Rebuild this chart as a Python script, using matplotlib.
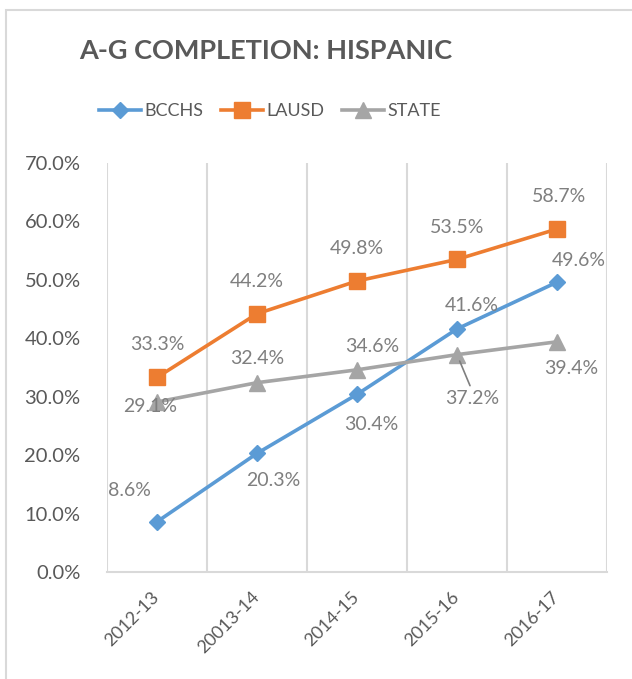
import matplotlib.pyplot as plt
from matplotlib.patches import Rectangle

# A-G completion rates (Hispanic students)
years = ["2012-13", "20013-14", "2014-15", "2015-16", "2016-17"]
bcchs = [0.086, 0.203, 0.304, 0.416, 0.496]
lausd = [0.333, 0.442, 0.498, 0.535, 0.587]
state = [0.291, 0.324, 0.346, 0.372, 0.394]

# label offsets in pixels (dx, dy) from each point
bcchs_off = [(-28, 31), (16, -27), (14, -30), (15, 23), (22, 22)]
lausd_off = [(0, 33), (0, 32), (0, 33), (0, 32), (2, 33)]
state_off = [(-7, -5), (0, 24), (15, 23), (15, -44), (14, -27)]

FONT = ["Lato", "DejaVu Sans"]
plt.rcParams["font.family"] = FONT

blue, orange, gray = "#5B9BD5", "#ED7D31", "#A5A5A5"
txt_dark, txt_label, grid_c = "#595959", "#7F7F7F", "#D9D9D9"

fig = plt.figure(figsize=(6.32, 6.79), dpi=100)
fig.patches.append(Rectangle((6 / 632, -0.2), 1.2, 1.2 - 10 / 679,
                             transform=fig.transFigure, fill=False,
                             edgecolor=grid_c, linewidth=1.5))

ax = fig.add_axes([107 / 632, 1 - 572 / 679, 500 / 632, (572 - 163) / 679])
x = range(len(years))

ax.plot(x, bcchs, color=blue, lw=2.6, marker="D", ms=8, label="BCCHS", zorder=3)
ax.plot(x, lausd, color=orange, lw=2.6, marker="s", ms=11, label="LAUSD", zorder=3)
ax.plot(x, state, color=gray, lw=2.6, marker="^", ms=11, label="STATE", zorder=3)

for vals, offs in [(bcchs, bcchs_off), (lausd, lausd_off), (state, state_off)]:
    for i, (v, o) in enumerate(zip(vals, offs)):
        ax.annotate(f"{v * 100:.1f}%", (i, v), xytext=o, textcoords="offset pixels",
                    ha="center", va="center", fontsize=14, color=txt_label, zorder=4)

# leader line for the 37.2% label
ax.annotate("", (3, state[3]), xytext=(state_off[3][0] - 2, state_off[3][1] + 13),
            textcoords="offset pixels",
            arrowprops=dict(arrowstyle="-", color=txt_label, lw=1.2, shrinkA=0, shrinkB=5))

ax.set_xlim(-0.5, len(years) - 0.5)
ax.set_ylim(0, 0.7)
ax.set_yticks([i / 10 for i in range(8)])
ax.set_yticklabels([f"{i * 10:.1f}%" for i in range(8)])
ax.set_xticks(list(x))
ax.set_xticklabels(years, rotation=45, ha="right", va="center", rotation_mode="anchor")
ax.tick_params(axis="both", length=0, labelsize=14.5, labelcolor=txt_dark)
ax.tick_params(axis="y", pad=19)
ax.tick_params(axis="x", pad=16)
for lab in ax.get_xticklabels():
    lab.set_fontsize(13)

for xv in [i - 0.5 for i in range(len(years) + 1)]:
    ax.axvline(xv, color=grid_c, lw=1.5, zorder=1)
for s in ["top", "right", "left"]:
    ax.spines[s].set_visible(False)
ax.spines["bottom"].set_color(grid_c)
ax.spines["bottom"].set_linewidth(1.5)

fig.text(266 / 632, 1 - 51 / 679, "A-G COMPLETION: HISPANIC", ha="center", va="center",
         fontsize=19.5, fontweight="bold", color=txt_dark)

fig.legend(loc="center", bbox_to_anchor=(270 / 632, 1 - 111 / 679), ncol=3,
           frameon=False, fontsize=13, labelcolor=txt_dark, handlelength=2.3,
           handletextpad=0.2, columnspacing=1.0)

fig.savefig("out.png", dpi=100)
